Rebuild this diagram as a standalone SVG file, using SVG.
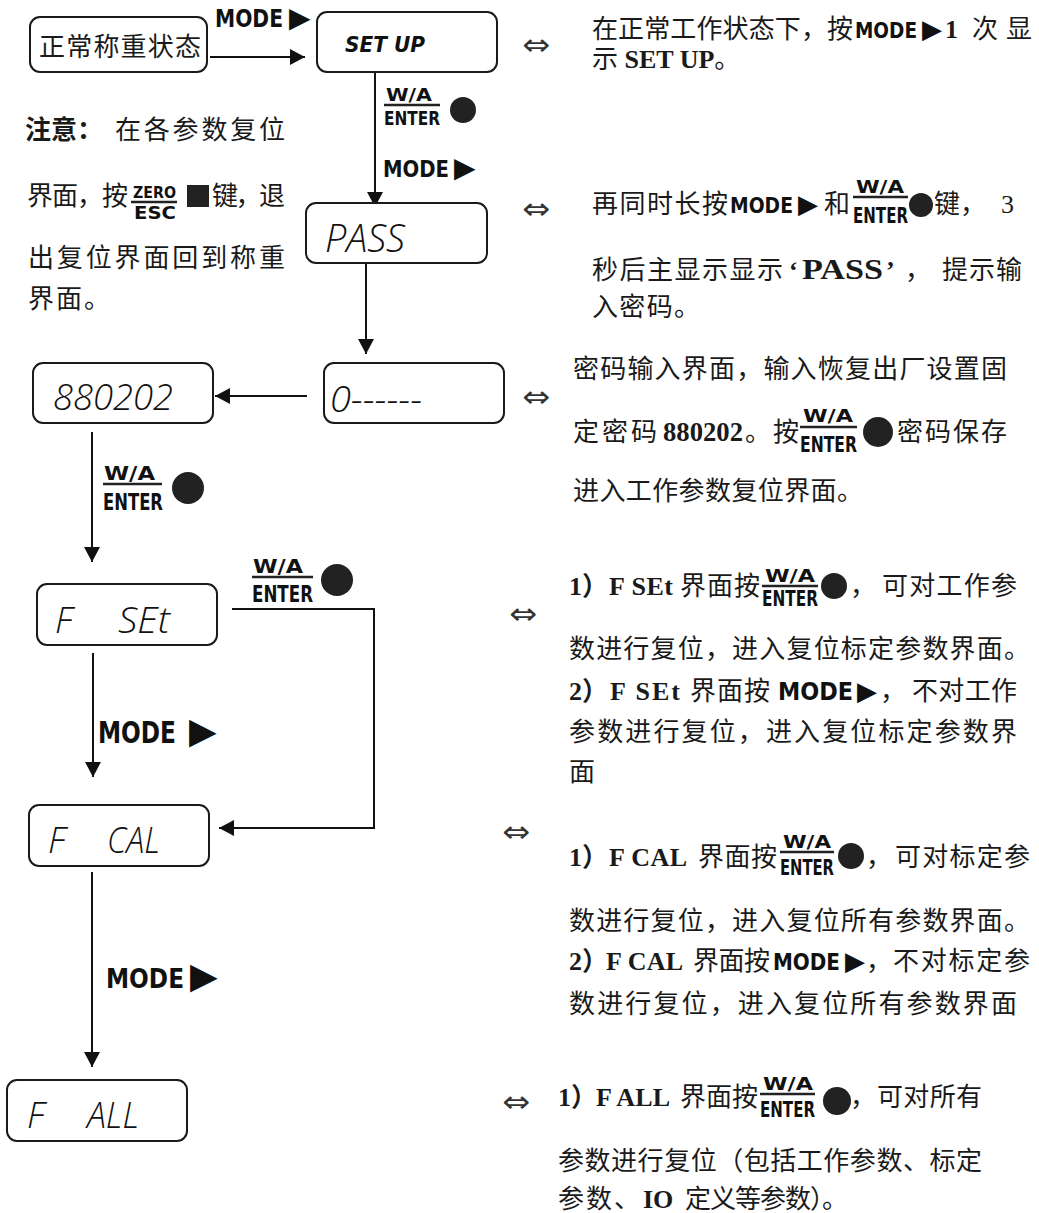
<svg xmlns="http://www.w3.org/2000/svg" width="1039" height="1213" viewBox="0 0 1039 1213">
<style>
.t{font-family:"Liberation Serif","Noto Sans CJK SC",serif;font-size:26px;fill:#1a1a1a}
.b{font-weight:bold}
.k{font-family:"DejaVu Sans Condensed","DejaVu Sans",sans-serif;font-weight:bold;fill:#111}
.tri{font-family:"DejaVu Sans",sans-serif;font-weight:normal;fill:#111}
.lcd{font-family:"Open Sans","DejaVu Sans","Liberation Sans",sans-serif;font-style:italic;font-weight:300;fill:#111}
.box{fill:#fff;stroke:#1a1a1a;stroke-width:2}
.ln{stroke:#111;stroke-width:2;fill:none}
.bar{stroke:#222;stroke-width:2.5}
.dot{fill:#222}
.eq{font-family:"DejaVu Sans",sans-serif;font-size:30px;fill:#333}
</style>
<defs>
<marker id="ah" markerUnits="userSpaceOnUse" markerWidth="16" markerHeight="16" refX="15" refY="8" orient="auto">
<path d="M0,0 L15,8 L0,16 Z" fill="#111"/>
</marker>
</defs>
<rect width="1039" height="1213" fill="#fff"/>

<g id="connectors">
<line class="ln" x1="210" y1="57" x2="305" y2="57" marker-end="url(#ah)"/>
<text class="k" x="215" y="27" font-size="24"><tspan textLength="68" lengthAdjust="spacingAndGlyphs">MODE</tspan><tspan class="tri" x="289" font-size="28">▶</tspan></text>

<line class="ln" x1="375" y1="72" x2="375" y2="207" marker-end="url(#ah)"/>
<text class="k" x="386" y="101" font-size="17" textLength="46" lengthAdjust="spacingAndGlyphs">W/A</text>
<line class="bar" x1="384" y1="105" x2="440" y2="105"/>
<text class="k" x="384" y="125" font-size="20" textLength="56" lengthAdjust="spacingAndGlyphs">ENTER</text>
<circle class="dot" cx="463" cy="110" r="13"/>
<text class="k" x="383" y="177" font-size="23"><tspan textLength="66" lengthAdjust="spacingAndGlyphs">MODE</tspan><tspan class="tri" x="454" font-size="28">▶</tspan></text>

<line class="ln" x1="366" y1="263" x2="366" y2="354" marker-end="url(#ah)"/>
<line class="ln" x1="307" y1="396" x2="215" y2="396" marker-end="url(#ah)"/>

<line class="ln" x1="92" y1="432" x2="92" y2="562" marker-end="url(#ah)"/>
<text class="k" x="104" y="480" font-size="19" textLength="51" lengthAdjust="spacingAndGlyphs">W/A</text>
<line class="bar" x1="103" y1="484" x2="162" y2="484"/>
<text class="k" x="103" y="510" font-size="23" textLength="60" lengthAdjust="spacingAndGlyphs">ENTER</text>
<circle class="dot" cx="188" cy="488" r="16"/>

<path class="ln" d="M232,609 H374 V828 H219" marker-end="url(#ah)"/>
<text class="k" x="253" y="573" font-size="19" textLength="50" lengthAdjust="spacingAndGlyphs">W/A</text>
<line class="bar" x1="252" y1="577" x2="313" y2="577"/>
<text class="k" x="252" y="602" font-size="23" textLength="61" lengthAdjust="spacingAndGlyphs">ENTER</text>
<circle class="dot" cx="337" cy="580" r="16"/>

<line class="ln" x1="93" y1="653" x2="93" y2="777" marker-end="url(#ah)"/>
<text class="k" x="98" y="743" font-size="30"><tspan textLength="78" lengthAdjust="spacingAndGlyphs">MODE</tspan><tspan class="tri" x="189" font-size="36">▶</tspan></text>

<line class="ln" x1="92" y1="872" x2="92" y2="1067" marker-end="url(#ah)"/>
<text class="k" x="106" y="988" font-size="27"><tspan textLength="78" lengthAdjust="spacingAndGlyphs">MODE</tspan><tspan class="tri" x="190" font-size="36">▶</tspan></text>
</g>

<g id="n-normal">
<rect class="box" x="30" y="17" width="177" height="55" rx="10"/>
<text class="t" x="39" y="56" font-size="27" textLength="162">正常称重状态</text>
</g>
<g id="n-setup">
<rect class="box" x="317" y="12" width="180" height="60" rx="10"/>
<text class="k" x="345" y="52" font-size="22" font-style="italic" textLength="80" lengthAdjust="spacingAndGlyphs">SET UP</text>
</g>
<g id="n-pass">
<rect class="box" x="306" y="203" width="181" height="60" rx="10"/>
<text class="lcd" x="325" y="252" font-size="38" textLength="80" lengthAdjust="spacingAndGlyphs">PASS</text>
</g>
<g id="n-code">
<rect class="box" x="324" y="363" width="180" height="60" rx="10"/>
<text class="lcd" x="330" y="412" font-size="36" textLength="92" lengthAdjust="spacingAndGlyphs">0------</text>
</g>
<g id="n-880202">
<rect class="box" x="33" y="363" width="180" height="60" rx="10"/>
<text class="lcd" x="53" y="410" font-size="36" textLength="120" lengthAdjust="spacingAndGlyphs">880202</text>
</g>
<g id="n-fset">
<rect class="box" x="37" y="584" width="180" height="61" rx="10"/>
<text class="lcd" x="55" y="633" font-size="36">F <tspan x="118" textLength="52" lengthAdjust="spacingAndGlyphs">SEt</tspan></text>
</g>
<g id="n-fcal">
<rect class="box" x="29" y="805" width="180" height="61" rx="10"/>
<text class="lcd" x="48" y="853" font-size="36">F <tspan x="107" textLength="53" lengthAdjust="spacingAndGlyphs">CAL</tspan></text>
</g>
<g id="n-fall">
<rect class="box" x="7" y="1080" width="180" height="61" rx="10"/>
<text class="lcd" x="27" y="1128" font-size="36">F <tspan x="87" textLength="52" lengthAdjust="spacingAndGlyphs">ALL</tspan></text>
</g>

<g id="note">
<text class="t" x="25" y="139" font-size="27"><tspan class="b">注意：</tspan><tspan x="115" textLength="170">在各参数复位</tspan></text>
<text class="t" x="27" y="205" textLength="101">界面，按</text>
<text class="k" x="133" y="198" font-size="16" textLength="43" lengthAdjust="spacingAndGlyphs">ZERO</text>
<line class="bar" x1="131" y1="202" x2="177" y2="202"/>
<text class="k" x="134" y="219" font-size="17" textLength="42" lengthAdjust="spacingAndGlyphs">ESC</text>
<rect x="187" y="185" width="22" height="22" fill="#222"/>
<text class="t" x="212" y="205" font-size="27" textLength="73">键，退</text>
<text class="t" x="28" y="267" font-size="27" textLength="257">出复位界面回到称重</text>
<text class="t" x="28" y="308" font-size="27" textLength="82">界面。</text>
</g>

<g id="desc-setup">
<text class="eq" x="522" y="55" textLength="28" lengthAdjust="spacingAndGlyphs">⇔</text>
<text class="t" x="592" y="38"><tspan textLength="261">在正常工作状态下，按</tspan><tspan class="k" x="855" font-size="22" textLength="62" lengthAdjust="spacingAndGlyphs">MODE</tspan><tspan class="tri" x="922" font-size="26">▶</tspan><tspan class="b" x="945">1</tspan><tspan x="972" textLength="60">次显</tspan></text>
<text class="t" x="592" y="68">示 <tspan class="b">SET UP</tspan>。</text>
</g>

<g id="desc-pass">
<text class="eq" x="522" y="219" textLength="28" lengthAdjust="spacingAndGlyphs">⇔</text>
<text class="t" x="592" y="213"><tspan textLength="136">再同时长按</tspan><tspan class="k" x="730" font-size="22" textLength="63" lengthAdjust="spacingAndGlyphs">MODE</tspan><tspan class="tri" x="798" font-size="26">▶</tspan><tspan x="824">和</tspan></text>
<text class="k" x="856" y="193" font-size="18" textLength="48" lengthAdjust="spacingAndGlyphs">W/A</text>
<line class="bar" x1="853" y1="197" x2="908" y2="197"/>
<text class="k" x="853" y="223" font-size="22" textLength="55" lengthAdjust="spacingAndGlyphs">ENTER</text>
<circle class="dot" cx="921" cy="205" r="12"/>
<text class="t" x="934" y="213">键，<tspan x="1001">3</tspan></text>
<text class="t" x="592" y="279"><tspan textLength="191">秒后主显示显示</tspan><tspan class="b" x="789">‘</tspan><tspan class="b" x="802" font-size="29" textLength="81" lengthAdjust="spacingAndGlyphs">PASS</tspan><tspan class="b" x="886">’</tspan><tspan x="905">，</tspan><tspan x="942" textLength="80">提示输</tspan></text>
<text class="t" x="592" y="316" textLength="108">入密码。</text>
</g>

<g id="desc-code">
<text class="eq" x="522" y="407" textLength="28" lengthAdjust="spacingAndGlyphs">⇔</text>
<text class="t" x="573" y="378" textLength="434">密码输入界面，输入恢复出厂设置固</text>
<text class="t" x="573" y="441"><tspan textLength="84">定密码</tspan><tspan class="b" x="663" font-size="27" textLength="80" lengthAdjust="spacingAndGlyphs">880202</tspan><tspan x="745">。</tspan><tspan x="773">按</tspan></text>
<text class="k" x="803" y="422" font-size="18" textLength="50" lengthAdjust="spacingAndGlyphs">W/A</text>
<line class="bar" x1="800" y1="427" x2="857" y2="427"/>
<text class="k" x="800" y="452" font-size="22" textLength="57" lengthAdjust="spacingAndGlyphs">ENTER</text>
<circle class="dot" cx="878" cy="432" r="15"/>
<text class="t" x="897" y="441" textLength="110">密码保存</text>
<text class="t" x="573" y="500" textLength="290">进入工作参数复位界面。</text>
</g>

<g id="desc-fset">
<text class="eq" x="509" y="624" textLength="28" lengthAdjust="spacingAndGlyphs">⇔</text>
<text class="t" x="569" y="595"><tspan class="b">1）</tspan><tspan class="b" x="609" textLength="64">F SEt</tspan><tspan x="680" textLength="80">界面按</tspan></text>
<text class="k" x="765" y="582" font-size="18" textLength="50" lengthAdjust="spacingAndGlyphs">W/A</text>
<line class="bar" x1="762" y1="586" x2="818" y2="586"/>
<text class="k" x="762" y="606" font-size="22" textLength="56" lengthAdjust="spacingAndGlyphs">ENTER</text>
<circle class="dot" cx="834" cy="586" r="13"/>
<text class="t" x="850" y="595">，<tspan x="882" textLength="135">可对工作参</tspan></text>
<text class="t" x="569" y="658" textLength="461">数进行复位，进入复位标定参数界面。</text>
<text class="t" x="569" y="700"><tspan class="b">2）</tspan><tspan class="b" x="610" textLength="70">F SEt</tspan><tspan x="690" textLength="80">界面按</tspan><tspan class="k" x="778" font-size="25" textLength="75" lengthAdjust="spacingAndGlyphs">MODE</tspan><tspan class="tri" x="857" font-size="26">▶</tspan><tspan x="880">，</tspan><tspan x="912" textLength="105">不对工作</tspan></text>
<text class="t" x="569" y="741" textLength="448">参数进行复位，进入复位标定参数界</text>
<text class="t" x="569" y="781">面</text>
</g>

<g id="desc-fcal">
<text class="eq" x="502" y="842" textLength="28" lengthAdjust="spacingAndGlyphs">⇔</text>
<text class="t" x="569" y="866"><tspan class="b">1）</tspan><tspan class="b" x="609" textLength="78">F CAL</tspan><tspan x="698" textLength="79">界面按</tspan></text>
<text class="k" x="783" y="848" font-size="18" textLength="48" lengthAdjust="spacingAndGlyphs">W/A</text>
<line class="bar" x1="780" y1="852" x2="834" y2="852"/>
<text class="k" x="780" y="875" font-size="22" textLength="54" lengthAdjust="spacingAndGlyphs">ENTER</text>
<circle class="dot" cx="851" cy="856" r="13"/>
<text class="t" x="866" y="866">，<tspan x="895" textLength="135">可对标定参</tspan></text>
<text class="t" x="569" y="930" textLength="461">数进行复位，进入复位所有参数界面。</text>
<text class="t" x="569" y="970"><tspan class="b">2）</tspan><tspan class="b" x="606" textLength="77">F CAL</tspan><tspan x="693" textLength="77">界面按</tspan><tspan class="k" x="773" font-size="23" textLength="67" lengthAdjust="spacingAndGlyphs">MODE</tspan><tspan class="tri" x="845" font-size="26">▶</tspan><tspan x="866">，</tspan><tspan x="893" textLength="137">不对标定参</tspan></text>
<text class="t" x="569" y="1013" textLength="448">数进行复位，进入复位所有参数界面</text>
</g>

<g id="desc-fall">
<text class="eq" x="502" y="1112" textLength="28" lengthAdjust="spacingAndGlyphs">⇔</text>
<text class="t" x="558" y="1106"><tspan class="b">1）</tspan><tspan class="b" x="596" textLength="74">F ALL</tspan><tspan x="680" textLength="78">界面按</tspan></text>
<text class="k" x="763" y="1090" font-size="18" textLength="50" lengthAdjust="spacingAndGlyphs">W/A</text>
<line class="bar" x1="760" y1="1094" x2="815" y2="1094"/>
<text class="k" x="760" y="1117" font-size="22" textLength="55" lengthAdjust="spacingAndGlyphs">ENTER</text>
<circle class="dot" cx="837" cy="1101" r="14"/>
<text class="t" x="850" y="1106">，<tspan x="877" textLength="105">可对所有</tspan></text>
<text class="t" x="558" y="1170" textLength="424">参数进行复位（包括工作参数、标定</text>
<text class="t" x="558" y="1208"><tspan textLength="82">参数、</tspan><tspan class="b" x="643">IO</tspan><tspan x="685" textLength="163">定义等参数）。</tspan></text>
</g>
</svg>
